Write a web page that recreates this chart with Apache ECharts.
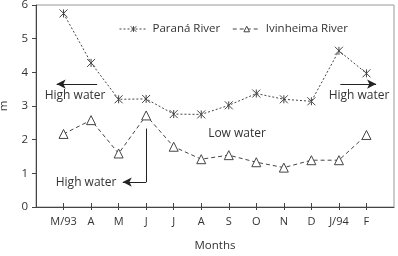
<!DOCTYPE html>
<html><head><meta charset="utf-8">
<script src="https://cdn.jsdelivr.net/npm/echarts@6/dist/echarts.min.js"></script>
<style>html,body{margin:0;padding:0;background:#fff}#c{width:398px;height:256px}</style>
</head><body><div id="c"></div>
<script>
var months = ['M/93','A','M','J','J','A','S','O','N','D','J/94','F'];
var parana = [5.75, 4.28, 3.2, 3.21, 2.76, 2.75, 3.02, 3.37, 3.2, 3.14, 4.64, 3.97];
var ivinheima = [2.17, 2.58, 1.59, 2.72, 1.79, 1.42, 1.54, 1.33, 1.17, 1.39, 1.39, 2.14];
var yTicks = [0,1,2,3,4,5,6];

var C = '#444';
var F = 'Open Sans';
function pts(arr){ return arr.map(function(v,i){ return [i+1, v]; }); }
var star = 'path://M0,0L10,10M10,0L0,10M5,0L5,10';
var tickVals = months.map(function(m,i){return i+1;});

var chart = echarts.init(document.getElementById('c'));
chart.setOption({
  animation:false,
  textStyle:{fontFamily:F, color:'#333'},
  grid:{left:36,right:4,top:5,bottom:49,show:true,borderColor:'#999',borderWidth:1,backgroundColor:'transparent',
    containLabel:false,outerBoundsMode:'none'},
  legend:{top:18,left:114,itemWidth:28,itemHeight:7,itemGap:12,
    itemStyle:{borderWidth:1},lineStyle:{width:1},
    textStyle:{fontFamily:F,fontSize:11.5,color:'#333'},
    data:['Paraná River','Ivinheima River']},
  xAxis:[{type:'value',min:0,max:13,interval:1,
    name:'Months',nameLocation:'middle',nameGap:33,nameTextStyle:{fontFamily:F,fontSize:11.5,color:'#333'},
    axisLine:{lineStyle:{color:C}},
    axisTick:{show:true,length:3,lineStyle:{color:C},customValues:tickVals},
    axisLabel:{margin:9,fontFamily:F,fontSize:11,color:'#333',customValues:tickVals,
      formatter:function(v){return months[v-1]||'';}},
    splitLine:{show:false}},
   {type:'value',min:0,max:13,interval:1,position:'bottom',
    axisLine:{show:false},axisLabel:{show:false},splitLine:{show:false},
    axisTick:{show:true,inside:true,length:4,lineStyle:{color:C},customValues:tickVals}}],
  yAxis:{type:'value',min:0,max:6,interval:1,
    name:'m',nameLocation:'middle',nameGap:26,nameTextStyle:{fontFamily:F,fontSize:11.5,color:'#333'},
    axisLine:{show:true,lineStyle:{color:C}},
    axisTick:{show:true,length:4,lineStyle:{color:C}},
    axisLabel:{margin:8,fontFamily:F,fontSize:11.5,color:'#333',customValues:yTicks},
    splitLine:{show:false}},
  series:[
    {name:'Paraná River',type:'line',data:pts(parana),symbol:star,symbolSize:8,
      lineStyle:{color:C,width:1,type:[2,2]},
      itemStyle:{color:'transparent',borderColor:C,borderWidth:1}},
    {name:'Ivinheima River',type:'line',data:pts(ivinheima),symbol:'triangle',symbolSize:9,
      lineStyle:{color:C,width:1,type:[4,3]},
      itemStyle:{color:'#fff',borderColor:C,borderWidth:1}},
    {type:'line',data:[],silent:true,
      markLine:{silent:true,symbolSize:[7,9],label:{show:false},
        lineStyle:{color:'#222',width:1,type:'solid'},
        data:[
          [{coord:[2.22,3.65],symbol:'none'},{coord:[0.75,3.65],symbol:'arrow'}],
          [{coord:[11.05,3.65],symbol:'none'},{coord:[12.35,3.65],symbol:'arrow'}],
          [{coord:[4,2.33],symbol:'none'},{coord:[4,0.74],symbol:'none'}],
          [{coord:[4,0.74],symbol:'none'},{coord:[3.15,0.74],symbol:'arrow'}]
        ]},
      markPoint:{silent:true,symbol:'circle',symbolSize:0,
        label:{show:true,fontFamily:F,fontSize:12,color:'#333',position:'inside',formatter:function(p){return p.name;}},
        data:[
          {name:'High water',coord:[1.42,3.3]},
          {name:'High water',coord:[11.73,3.3]},
          {name:'Low water',coord:[7.3,2.17]},
          {name:'High water',coord:[1.82,0.74]}
        ]}}
  ]
});
</script></body></html>
